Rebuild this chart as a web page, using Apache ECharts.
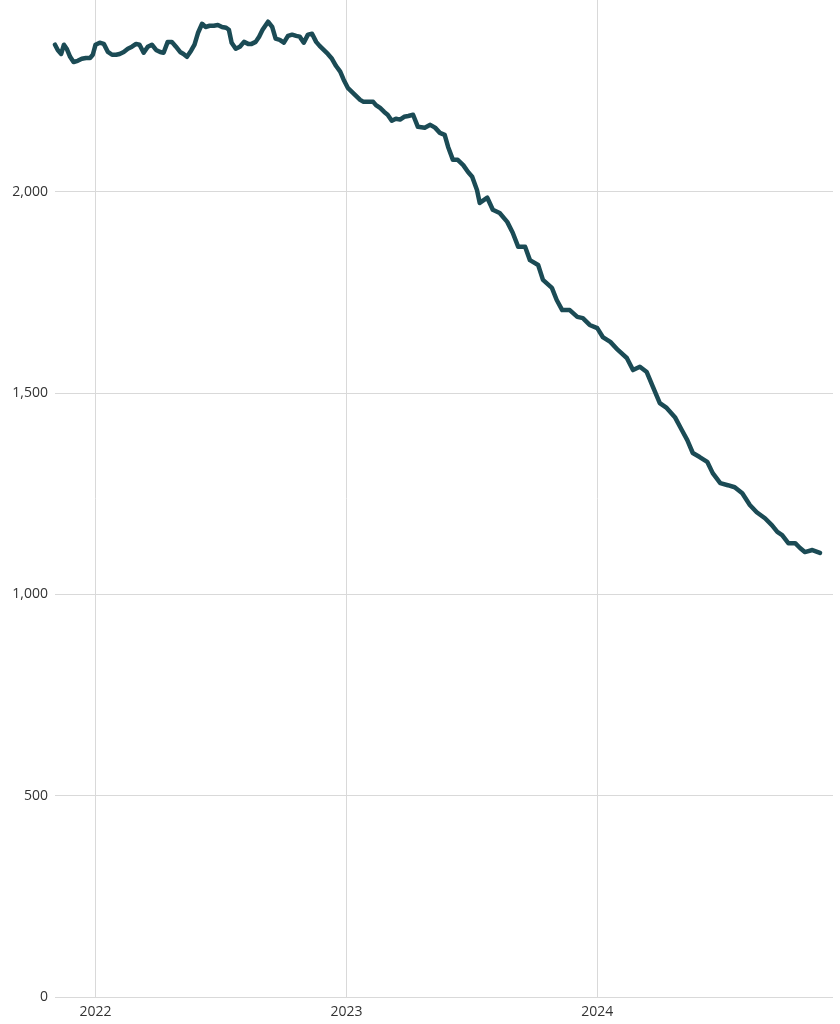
<!DOCTYPE html>
<html>
<head>
<meta charset="utf-8">
<script src="https://cdn.jsdelivr.net/npm/echarts@6/dist/echarts.min.js"></script>
<style>
  html, body { margin: 0; padding: 0; background: #ffffff; }
  #chart { width: 840px; height: 1024px; }
</style>
</head>
<body>
<div id="chart"></div>
<script>
const dates = [
  '2021-11-03','2021-11-07','2021-11-12','2021-11-16','2021-11-20','2021-11-25','2021-11-30','2021-12-06','2021-12-12','2021-12-18','2021-12-24','2021-12-28',
  '2022-01-01','2022-01-07','2022-01-13','2022-01-19','2022-01-25','2022-01-31','2022-02-05','2022-02-11','2022-02-17','2022-02-23','2022-03-01','2022-03-06',
  '2022-03-12','2022-03-18','2022-03-24','2022-03-30','2022-04-05','2022-04-10','2022-04-16','2022-04-22','2022-04-28','2022-05-04','2022-05-09','2022-05-14',
  '2022-05-20','2022-05-25','2022-05-30','2022-06-05','2022-06-10','2022-06-16','2022-06-22','2022-06-28','2022-07-04','2022-07-10','2022-07-14','2022-07-18',
  '2022-07-24','2022-07-30','2022-08-05','2022-08-11','2022-08-16','2022-08-22','2022-08-27','2022-09-01','2022-09-09','2022-09-15','2022-09-20','2022-09-26',
  '2022-10-02','2022-10-08','2022-10-14','2022-10-20','2022-10-25','2022-10-31','2022-11-06','2022-11-12','2022-11-18','2022-11-23','2022-11-29','2022-12-05',
  '2022-12-11','2022-12-17','2022-12-23','2022-12-28','2023-01-03','2023-01-09','2023-01-15','2023-01-21','2023-01-26','2023-02-01','2023-02-09','2023-02-13',
  '2023-02-19','2023-02-25','2023-03-02','2023-03-08','2023-03-14','2023-03-20','2023-03-26','2023-04-01','2023-04-08','2023-04-15','2023-04-25','2023-05-03',
  '2023-05-10','2023-05-17','2023-05-24','2023-05-29','2023-06-05','2023-06-12','2023-06-20','2023-06-27','2023-07-03','2023-07-10','2023-07-14','2023-07-25',
  '2023-08-02','2023-08-12','2023-08-23','2023-08-31','2023-09-08','2023-09-18','2023-09-25','2023-10-07','2023-10-14','2023-10-27','2023-11-03','2023-11-11',
  '2023-11-22','2023-12-03','2023-12-11','2023-12-21','2024-01-01','2024-01-09','2024-01-20','2024-01-31','2024-02-13','2024-02-22','2024-03-03','2024-03-13',
  '2024-03-22','2024-04-01','2024-04-11','2024-04-23','2024-05-03','2024-05-11','2024-05-19','2024-05-29','2024-06-09','2024-06-17','2024-06-28','2024-07-09',
  '2024-07-19','2024-07-30','2024-08-10','2024-08-20','2024-09-01','2024-09-11','2024-09-19','2024-09-26','2024-10-05','2024-10-15','2024-10-22','2024-10-29',
  '2024-11-09','2024-11-20'
];
const values = [
  2365,2352,2342,2365,2355,2335,2322,2325,2330,2332,2332,2340,
  2365,2370,2367,2347,2340,2340,2342,2347,2355,2360,2367,2365,
  2345,2360,2365,2352,2347,2345,2372,2372,2360,2347,2342,2335,
  2350,2365,2394,2417,2409,2412,2412,2414,2409,2407,2402,2370,
  2355,2360,2372,2367,2367,2372,2385,2402,2422,2409,2380,2377,
  2370,2387,2390,2387,2385,2370,2390,2392,2372,2362,2352,2342,
  2330,2312,2298,2278,2258,2248,2238,2228,2223,2223,2223,2215,
  2208,2198,2191,2176,2181,2179,2186,2188,2191,2161,2159,2166,
  2159,2146,2141,2111,2079,2079,2066,2049,2037,2004,1972,1985,
  1955,1947,1925,1898,1863,1863,1830,1818,1781,1761,1731,1706,
  1706,1689,1686,1669,1661,1639,1627,1607,1587,1557,1565,1552,
  1515,1475,1463,1440,1408,1383,1351,1341,1329,1301,1276,1271,
  1266,1251,1222,1204,1189,1172,1155,1147,1127,1127,1115,1105,
  1110,1103
];
const xMin = '2021-11-03';
const xMax = '2024-12-09';
const yMin = 0;
const yMax = 2476;
const yStep = 500;

const chart = echarts.init(document.getElementById('chart'), null, { renderer: 'canvas' });
const YEAR = 365 * 24 * 3600 * 1000;
chart.setOption({
  animation: false,
  backgroundColor: '#ffffff',
  textStyle: { fontFamily: 'Open Sans' },
  grid: { left: 55, right: 7, top: 0, bottom: 27, containLabel: false },
  xAxis: {
    type: 'time',
    min: xMin,
    max: xMax,
    minInterval: YEAR,
    maxInterval: YEAR,
    axisLine: { show: false },
    axisTick: { show: false },
    splitLine: {
      show: true,
      showMinLine: false,
      showMaxLine: false,
      lineStyle: { color: '#d9d9d9', width: 1 }
    },
    axisLabel: {
      formatter: '{yyyy}',
      color: '#333333',
      fontSize: 14,
      fontFamily: 'Open Sans',
      margin: 8,
      hideOverlap: false
    }
  },
  yAxis: {
    type: 'value',
    min: yMin,
    max: yMax,
    interval: yStep,
    axisLine: { show: false },
    axisTick: { show: false },
    splitLine: {
      show: true,
      showMaxLine: false,
      lineStyle: { color: '#d9d9d9', width: 1 }
    },
    axisLabel: {
      color: '#333333',
      fontSize: 14,
      fontFamily: 'Open Sans',
      margin: 7,
      showMaxLabel: false,
      formatter: function (v) { return v % yStep === 0 ? v.toLocaleString('en-US') : ''; }
    }
  },
  series: [{
    type: 'line',
    data: dates.map(function (d, i) { return [d, values[i]]; }),
    showSymbol: false,
    symbol: 'none',
    lineStyle: { color: '#1b4b55', width: 4.5, join: 'round', cap: 'round' },
    itemStyle: { color: '#1b4b55' }
  }]
});
</script>
</body>
</html>
